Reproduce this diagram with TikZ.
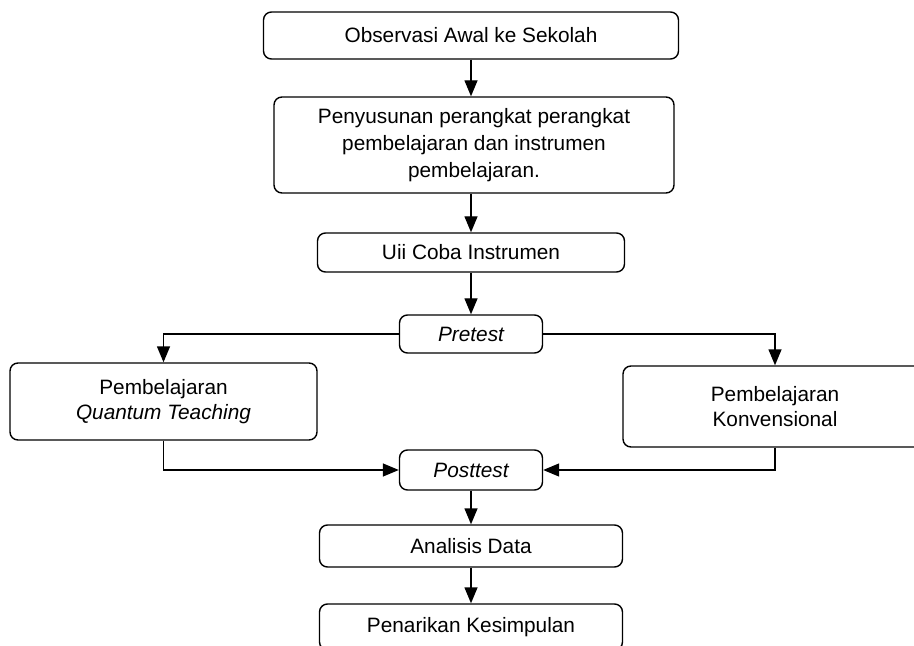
\documentclass[tikz,border=0pt]{standalone}
\usepackage{fontspec}
\setmainfont{Liberation Sans}
\usetikzlibrary{arrows.meta}

\begin{document}
\begin{tikzpicture}[x=0.5pt,y=-0.5pt,
        kotak/.style={draw,rounded corners=4pt,line width=0.7pt,align=center,inner sep=0pt,
            font=\fontsize{10.4}{12.5}\selectfont},
        panah/.style={-{Triangle[length=8pt,width=6.5pt]},line width=0.7pt}]
        \path[use as bounding box,clip] (0,0) rectangle (914,646);
        \node[kotak,minimum width=207.5pt,minimum height=23.5pt](obs)at(471,35.5){Observasi Awal ke Sekolah};
        \node[kotak,minimum width=200pt,minimum height=48pt,font=\fontsize{10.4}{13.5}\selectfont](susun)at(474,145)
            {Penyusunan perangkat perangkat\\pembelajaran dan instrumen\\pembelajaran.};
        \node[kotak,minimum width=153.5pt,minimum height=19.5pt](uji)at(471,252.5){Uii Coba Instrumen};
        \node[kotak,minimum width=71.5pt,minimum height=19pt](pre)at(471,334){\itshape Pretest};
        \node[kotak,minimum width=153.5pt,minimum height=38.5pt](qt)at(163.5,401.5){Pembelajaran\\\itshape Quantum Teaching};
        \node[kotak,minimum width=160pt,minimum height=40.5pt](konv)at(783,406.5){};
        \node[align=center,font=\fontsize{10.4}{12.5}\selectfont](konvteks)at(775,406.5){Pembelajaran\\Konvensional};
        \node[kotak,minimum width=71.5pt,minimum height=20pt](post)at(471,470){\itshape Posttest};
        \node[kotak,minimum width=151.5pt,minimum height=21pt](data)at(471,546){Analisis Data};
        \node[kotak,minimum width=151.5pt,minimum height=23pt](simpul)at(471,627){Penarikan Kesimpulan};
        \draw[panah](obs)--(susun.north -| obs);
        \draw[panah](susun.south -| obs)--(uji);
        \draw[panah](uji)--(pre);
        \draw[panah](pre.west)-|(qt.north);
        \draw[panah](pre.east)-|(konv.north -| konvteks);
        \draw[panah](qt.south)|-(post.west);
        \draw[panah](konv.south -| konvteks)|-(post.east);
        \draw[panah](post)--(data);
        \draw[panah](data)--(simpul);
    \end{tikzpicture}
\end{document}
